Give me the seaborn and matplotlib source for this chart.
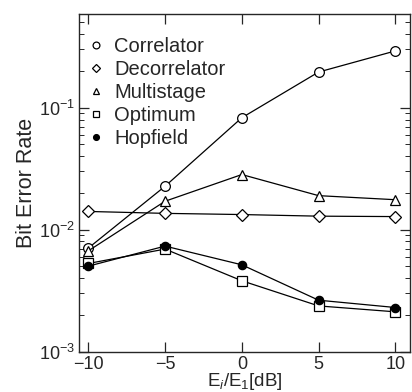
import matplotlib
matplotlib.use("Agg")
import matplotlib.pyplot as plt
import seaborn as sns
import pandas as pd
from matplotlib.ticker import LogLocator, NullFormatter

sns.set_style("ticks")
plt.rcParams['font.family'] = ['Liberation Sans', 'DejaVu Sans']
plt.rcParams['mathtext.fontset'] = 'custom'
plt.rcParams['mathtext.rm'] = 'Liberation Sans'
plt.rcParams['mathtext.it'] = 'Liberation Sans:italic'

x = [-10, -5, 0, 5, 10]
series = ["Correlator", "Decorrelator", "Multistage", "Optimum", "Hopfield"]
correlator = [0.00706, 0.0227, 0.0827, 0.196, 0.292]
decorrelator = [0.0141, 0.0136, 0.0133, 0.0129, 0.0128]
multistage = [0.0067, 0.0171, 0.0283, 0.019, 0.0176]
optimum = [0.00528, 0.00693, 0.00381, 0.00237, 0.00212]
hopfield = [0.00502, 0.00733, 0.00515, 0.00264, 0.0023]

values = [correlator, decorrelator, multistage, optimum, hopfield]
rows = []
for name, vals in zip(series, values):
    for xi, yi in zip(x, vals):
        rows.append({"x": xi, "y": yi, "method": name})
df = pd.DataFrame(rows)

markers = {"Correlator": "o", "Decorrelator": "D", "Multistage": "^",
           "Optimum": "s", "Hopfield": "o"}
sizes = {"Correlator": 7, "Decorrelator": 6, "Multistage": 7,
         "Optimum": 7, "Hopfield": 6}
faces = {"Correlator": "white", "Decorrelator": "white", "Multistage": "white",
         "Optimum": "white", "Hopfield": "black"}

fig = plt.figure(figsize=(4.12, 3.92), dpi=100)
ax = fig.add_axes([0.192, 0.103, 0.803, 0.861])

for name in series:
    sub = df[df["method"] == name]
    sns.lineplot(data=sub, x="x", y="y", ax=ax, color="black", lw=0.9,
                 marker=markers[name], markersize=sizes[name],
                 markerfacecolor=faces[name], markeredgecolor="black",
                 markeredgewidth=0.9, label=name)

ax.set_yscale("log")
ax.set_xlim(-10.6, 10.95)
ax.set_ylim(1e-3, 0.585)
ax.set_xticks(x)
ax.set_xticklabels(["\u221210", "\u22125", "0", "5", "10"])
ax.yaxis.set_major_locator(LogLocator(base=10, numticks=10))
ax.yaxis.set_minor_locator(LogLocator(base=10, subs=range(2, 10), numticks=10))
ax.yaxis.set_minor_formatter(NullFormatter())
ax.tick_params(axis="both", which="both", direction="in", top=True, right=True,
               labelsize=13)
ax.tick_params(axis="both", which="major", length=7, width=0.9, pad=3)
ax.tick_params(axis="y", which="minor", length=3.5, width=0.7)
for s in ["left", "top", "bottom", "right"]:
    ax.spines[s].set_linewidth(1.0)

ax.set_xlabel("E$_i$/E$_1$[dB]", fontsize=13.5, labelpad=-1)
ax.set_ylabel("Bit Error Rate", fontsize=15.5, labelpad=1)

leg = ax.legend(loc="upper left", bbox_to_anchor=(0.0, 0.982), frameon=False,
                fontsize=14.5, handlelength=0, handletextpad=0.9,
                labelspacing=0.2, borderaxespad=0.55,
                markerscale=0.7, borderpad=0.3)

fig.savefig("out.png", dpi=100)
